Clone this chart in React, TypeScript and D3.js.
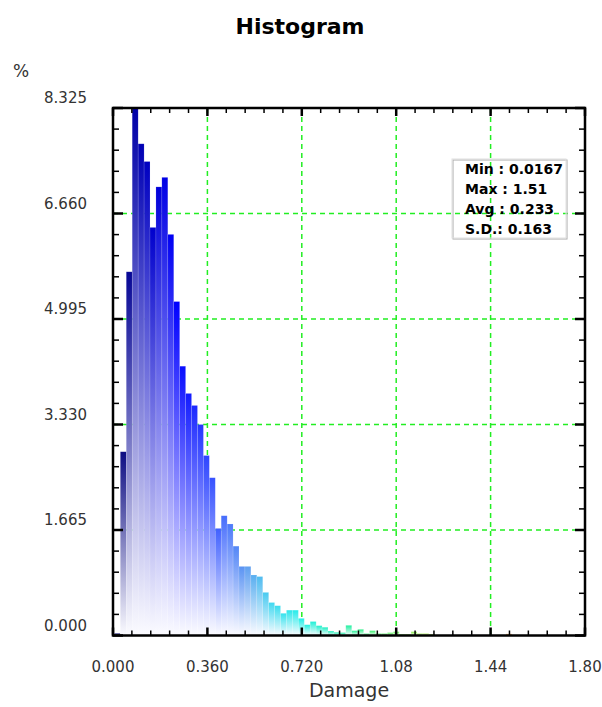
import React from "react";
import * as d3 from "d3";

// ---- data ----
const STAT_MIN = 0.0167;
const STAT_MAX = 1.51;
const STAT_AVG = 0.233;
const STAT_SD = 0.163;
const binPercent = [
  0.035, 2.9, 5.74, 8.325, 7.76, 7.48, 6.44, 7.08, 7.23, 6.33,
  5.27, 4.25, 3.82, 3.63, 3.33, 2.84, 2.49, 1.69, 1.89, 1.76,
  1.41, 1.09, 1.09, 0.955, 0.93, 0.68, 0.52, 0.47, 0.35, 0.4,
  0.4, 0.27, 0.17, 0.22, 0.155, 0.13, 0.07, 0.05, 0.045, 0.16,
  0.076, 0.097, 0.03, 0.076, 0.03, 0.03, 0.045, 0.06, 0.02, 0.02,
  0.06, 0.03, 0.03, 0.02, 0, 0, 0, 0, 0, 0,
  0, 0, 0, 0, 0, 0, 0.025,
];
const yTickLabels = ["0.000", "1.665", "3.330", "4.995", "6.660", "8.325"];
const xTickLabels = ["0.000", "0.360", "0.720", "1.08", "1.44", "1.80"];
const colorStops = ["#141470", "#0000a8", "#0000ff", "#4060ff", "#60a0f0", "#40d8f0", "#20f0e8", "#20f0a0", "#40f060", "#a0f040", "#ff9020"];
const colorStopPos = [0, 3, 10, 17, 22, 26, 31, 39, 44, 52, 66];

const W = 602, H = 707;
const L = 113, R = 585, T = 108, B = 635.5;
const FONT = "'DejaVu Sans', Verdana, sans-serif";

export default function App() {
  const x = d3.scaleLinear().domain([0, 1.8]).range([L, R]);
  const y = d3.scaleLinear().domain([0, 8.325]).range([B, T]);
  const n = binPercent.length;
  const bw = (STAT_MAX - STAT_MIN) / (n - 1);
  const color = d3.scaleLinear<string>().domain(colorStopPos).range(colorStops).interpolate(d3.interpolateRgb);

  const yMajor = yTickLabels.map(Number);
  const yMinor = d3.range(0, 26).map((i) => (i * 8.325) / 25);
  const xMajor = xTickLabels.map(Number);
  const xMinor = d3.range(0, 26).map((i) => (i * 1.8) / 25);
  const isMajorY = (v: number) => yMajor.some((m) => Math.abs(m - v) < 1e-6);
  const isMajorX = (v: number) => xMajor.some((m) => Math.abs(m - v) < 1e-6);

  const statLines = [
    `Min : ${STAT_MIN}`,
    `Max : ${STAT_MAX}`,
    `Avg : ${STAT_AVG}`,
    `S.D.: ${STAT_SD}`,
  ];

  return (
    <svg width={W} height={H} style={{ position: "absolute", left: 0, top: 0, background: "#fff" }}>
      <defs>
        {binPercent.map((v, k) => (
          <linearGradient key={k} id={`g${k}`} x1="0" y1="0" x2="0" y2="1">
            <stop offset="0" stopColor={color(k)} />
            <stop offset="1" stopColor="#fbfbff" />
          </linearGradient>
        ))}
      </defs>
      <rect x={0} y={0} width={W} height={H} fill="#fff" />
      <text x={300} y={34} textAnchor="middle" fontFamily={FONT} fontWeight="bold" fontSize={22} fill="#000">
        Histogram
      </text>
      <text x={21} y={77} textAnchor="middle" fontFamily={FONT} fontSize={17} fill="#333">%</text>

      {/* grid */}
      {yMajor.slice(1, -1).map((v) => (
        <line key={`gy${v}`} x1={L} x2={R} y1={y(v)} y2={y(v)} stroke="#22ee22" strokeWidth={1.5} strokeDasharray="5,4" />
      ))}
      {xMajor.slice(1, -1).map((v) => (
        <line key={`gx${v}`} x1={x(v)} x2={x(v)} y1={T} y2={B} stroke="#22ee22" strokeWidth={1.5} strokeDasharray="5,4" />
      ))}

      {/* bars */}
      {binPercent.map((v, k) => {
        if (v <= 0) return null;
        const c = STAT_MIN + k * bw;
        const x0 = x(c - bw / 2), x1 = x(c + bw / 2);
        return (
          <rect key={k} x={x0} y={y(v)} width={x1 - x0} height={B - y(v)} fill={`url(#g${k})`} stroke="#ffffff" strokeOpacity={0.2} strokeWidth={0.6} />
        );
      })}

      {/* ticks */}
      {yMinor.map((v, i) => {
        const maj = isMajorY(v);
        const len = maj ? 10 : 6;
        return (
          <g key={`ty${i}`} stroke="#000" strokeWidth={maj ? 2.5 : 1.5}>
            <line x1={L} x2={L + len} y1={y(v)} y2={y(v)} />
            <line x1={R} x2={R - len} y1={y(v)} y2={y(v)} />
          </g>
        );
      })}
      {xMinor.map((v, i) => {
        const maj = isMajorX(v);
        const len = maj ? 8 : 5;
        return (
          <g key={`tx${i}`} stroke="#000" strokeWidth={maj ? 2.5 : 1.5}>
            <line x1={x(v)} x2={x(v)} y1={B} y2={B - len} />
            <line x1={x(v)} x2={x(v)} y1={T} y2={T + len} />
          </g>
        );
      })}

      {/* frame */}
      <rect x={L} y={T} width={R - L} height={B - T} fill="none" stroke="#000" strokeWidth={2.5} />

      {/* tick labels */}
      {yTickLabels.map((s) => (
        <text key={`ly${s}`} x={87} y={y(Number(s)) - 10} dy="0.36em" textAnchor="end" fontFamily={FONT} fontSize={15} fill="#333">
          {s}
        </text>
      ))}
      {xTickLabels.map((s) => (
        <text key={`lx${s}`} x={x(Number(s))} y={667} dy="0.36em" textAnchor="middle" fontFamily={FONT} fontSize={15} fill="#333">
          {s}
        </text>
      ))}
      <text x={x(0.9)} y={690} dy="0.36em" textAnchor="middle" fontFamily={FONT} fontSize={19} fill="#333">
        Damage
      </text>

      {/* stats box */}
      <g>
        <rect x={453} y={160} width={114} height={79} fill="none" stroke="#aaa" strokeWidth={1} />
        <rect x={452} y={159} width={114} height={79} fill="none" stroke="#e0e0e0" strokeWidth={1} />
        {statLines.map((s, i) => (
          <text key={s} x={465} y={174 + i * 20} fontFamily={FONT} fontWeight="bold" fontSize={14} fill="#000">
            {s}
          </text>
        ))}
      </g>
    </svg>
  );
}
